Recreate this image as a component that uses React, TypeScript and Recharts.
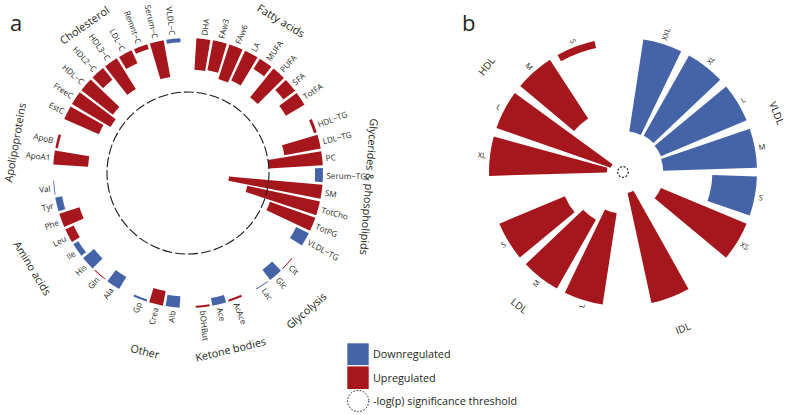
import React from 'react';
import { RadialBarChart, RadialBar, PolarAngleAxis, PolarRadiusAxis, PolarGrid, Cell, Sector, LabelList } from 'recharts';

const W = 790;
const H = 415;
const UP = '#a6161d';
const DOWN = '#4564a8';
const FONT = '"Open Sans", "DejaVu Sans", sans-serif';
const TXT = '#231f20';

// ---------- Panel a data (value = -log10(p) style score, threshold 1.3) ----------
const fattyNames = ['DHA', 'FAw3', 'FAw6', 'LA', 'MUFA', 'PUFA', 'SFA', 'TotFA'];
const fattyValues = [0.76, 0.73, 0.87, 0.79, 0.29, 0.89, 0.35, 0.52];
const fattyDirs = ['U', 'U', 'U', 'U', 'U', 'U', 'U', 'U'];

const glycNames = ['HDL−TG', 'LDL−TG', 'PC', 'Serum−TG', 'SM', 'TotCho', 'TotPG', 'VLDL−TG'];
const glycValues = [0.07, 0.89, 1.3, 0.19, 2.26, 1.79, 1.16, 0.34];
const glycDirs = ['U', 'U', 'U', 'D', 'U', 'U', 'U', 'D'];

const glycoNames = ['Cit', 'Glc', 'Lac'];
const glycoValues = [0.02, 0.31, 0.02];
const glycoDirs = ['U', 'D', 'D'];

const ketoneNames = ['AcAce', 'Ace', 'bOHBut'];
const ketoneValues = [0.05, 0.19, 0.05];
const ketoneDirs = ['U', 'D', 'U'];

const otherNames = ['Alb', 'Crea', 'Gp'];
const otherValues = [0.28, 0.36, 0.05];
const otherDirs = ['D', 'U', 'D'];

const aminoNames = ['Ala', 'Gln', 'His', 'Ile', 'Leu', 'Phe', 'Tyr', 'Val'];
const aminoValues = [0.34, 0.02, 0.34, 0.14, 0.22, 0.51, 0.17, 0.02];
const aminoDirs = ['D', 'U', 'D', 'D', 'U', 'U', 'D', 'D'];

const apoNames = ['ApoA1', 'ApoB'];
const apoValues = [0.84, 0.06];
const apoDirs = ['U', 'U'];

const cholNames = ['EstC', 'FreeC', 'HDL−C', 'HDL2−C', 'HDL3−C', 'LDL−C', 'Remnt−C', 'Serum−C', 'VLDL−C'];
const cholValues = [0.91, 1.08, 0.96, 0.36, 0.87, 0.34, 0.12, 0.9, 0.1];
const cholDirs = ['U', 'U', 'U', 'U', 'U', 'U', 'U', 'U', 'D'];

const A_MAX = 3.25;
const A_THRESH = 1.3;

const groupsA = [
  { label: 'Fatty acids', names: fattyNames, values: fattyValues, dirs: fattyDirs },
  { label: 'Glycerides & phospholipids', names: glycNames, values: glycValues, dirs: glycDirs },
  { label: 'Glycolysis', names: glycoNames, values: glycoValues, dirs: glycoDirs },
  { label: 'Ketone bodies', names: ketoneNames, values: ketoneValues, dirs: ketoneDirs },
  { label: 'Other', names: otherNames, values: otherValues, dirs: otherDirs },
  { label: 'Amino acids', names: aminoNames, values: aminoValues, dirs: aminoDirs },
  { label: 'Apolipoproteins', names: apoNames, values: apoValues, dirs: apoDirs },
  { label: 'Cholesterol', names: cholNames, values: cholValues, dirs: cholDirs },
];

// ---------- Panel b data ----------
const vldlNames = ['XXL', 'XL', 'L', 'M', 'S', 'XS'];
const vldlValues = [20.8, 20.6, 20.8, 21.0, 10.0, 20.8];
const vldlDirs = ['D', 'D', 'D', 'D', 'D', 'U'];

const idlNames = [''];
const idlValues = [25.2];
const idlDirs = ['U'];

const ldlNames = ['L', 'M', 'S'];
const ldlValues = [20.7, 17.7, 15.9];
const ldlDirs = ['U', 'U', 'U'];

const hdlNames = ['XL', 'L', 'M', 'S'];
const hdlValues = [26.4, 27.1, 15.7, 1.6];
const hdlDirs = ['U', 'U', 'U', 'U'];

const B_MAX = 30;
const B_THRESH = 28.8;

const groupsB = [
  { label: 'VLDL', names: vldlNames, values: vldlValues, dirs: vldlDirs },
  { label: 'IDL', names: idlNames, values: idlValues, dirs: idlDirs },
  { label: 'LDL', names: ldlNames, values: ldlValues, dirs: ldlDirs },
  { label: 'HDL', names: hdlNames, values: hdlValues, dirs: hdlDirs },
];

// ---------- geometry ----------
const A = {
  cx: 188, cy: 173, r: 135, step: 7.15, gap: 5.675, start: 2.84, labelR: 138.5,
  groupR: [179, 182, 181, 181, 183, 182, 176, 181], font: 8.1, gFont: 10.8, catGap: '6%',
};
const B = {
  cx: 623, cy: 172, r: 134, step: 20.8, gap: 17.2, start: 6.6, labelR: 138,
  groupR: [165, 167, 169, 173], font: 7.5, gFont: 10, catGap: '8%',
};

type Group = { label: string; names: string[]; values: number[]; dirs: string[] };

function layoutGroups(groups: Group[], P: any) {
  let b = P.start;
  return groups.map((g) => {
    const st = b;
    const en = b + g.names.length * P.step;
    b = en + P.gap;
    return { st, en, mid: (st + en) / 2 };
  });
}

const InvSector = (p: any) => {
  const r0 = Math.min(p.innerRadius, p.outerRadius);
  const r1 = Math.max(p.innerRadius, p.outerRadius);
  return (
    <Sector cx={p.cx} cy={p.cy} innerRadius={r0} outerRadius={r1} startAngle={p.startAngle} endAngle={p.endAngle} fill={p.fill} />
  );
};

// label placed radially, centred on the bar's own angular span
const makeLabel = (P: any) => (props: any) => {
  const vb = props.viewBox || {};
  if (vb.startAngle === undefined) return null;
  const ang = (vb.startAngle + vb.endAngle) / 2;
  const rad = (-ang * Math.PI) / 180;
  const x = P.cx + P.labelR * Math.cos(rad);
  const y = P.cy + P.labelR * Math.sin(rad);
  const a = ((ang % 360) + 360) % 360;
  const right = a < 90 || a > 270;
  const rot = right ? -ang : 180 - ang;
  return (
    <text x={x} y={y} transform={`rotate(${rot} ${x} ${y})`} textAnchor={right ? 'start' : 'end'} dominantBaseline="central" fontSize={P.font} fontFamily={FONT} fill={TXT}>
      {props.value}
    </text>
  );
};

function GroupChart({ group, P, st, en, max, thresh, dash }: any) {
  const data = group.names.map((name: string, i: number) => ({ name, value: group.values[i], dir: group.dirs[i] }));
  // clockwise angle range; recharts places clockwise category bars one band late, so the range is led by one band
  return (
    <div style={{ position: 'absolute', left: 0, top: 0 }}>
      <RadialBarChart
        width={W}
        height={H}
        cx={P.cx}
        cy={P.cy}
        innerRadius={0}
        outerRadius={P.r}
        startAngle={90 - st - P.step}
        endAngle={90 - en - P.step}
        data={data}
        layout="centric"
        barCategoryGap={P.catGap}
        margin={{ top: 0, right: 0, bottom: 0, left: 0 }}
      >
        {thresh !== undefined && (
          <PolarGrid gridType="circle" radialLines={false} stroke="#1a1a1a" strokeWidth={1.1} strokeDasharray={dash} />
        )}
        <PolarAngleAxis type="category" dataKey="name" axisLine={false} tickLine={false} tick={false} />
        <PolarRadiusAxis
          type="number"
          domain={[0, max]}
          reversed
          tick={false}
          axisLine={false}
          ticks={thresh !== undefined ? [thresh] : undefined}
        />
        <RadialBar dataKey="value" isAnimationActive={false} shape={InvSector}>
          {data.map((d: any, i: number) => (
            <Cell key={i} fill={d.dir === 'U' ? UP : DOWN} />
          ))}
          <LabelList dataKey="name" content={makeLabel(P)} />
        </RadialBar>
      </RadialBarChart>
    </div>
  );
}

const groupRot = (bearing: number) => {
  let b = ((bearing % 360) + 360) % 360;
  if (b > 180) b -= 360;
  if (Math.abs(b) <= 100) return b;
  return b > 0 ? b - 180 : b + 180;
};

function GroupLabels({ groups, lay, P }: any) {
  return (
    <>
      {groups.map((g: Group, i: number) => {
        const b = lay[i].mid;
        const rad = (b * Math.PI) / 180;
        const gr = P.groupR[i];
        const x = P.cx + gr * Math.sin(rad);
        const y = P.cy - gr * Math.cos(rad);
        const rot = groupRot(b);
        return (
          <text key={i} x={x} y={y} transform={`rotate(${rot} ${x} ${y})`} textAnchor="middle" dominantBaseline="central" fontSize={P.gFont} fontFamily={FONT} fill={TXT}>
            {g.label}
          </text>
        );
      })}
    </>
  );
}

export default function App() {
  const layA = layoutGroups(groupsA, A);
  const layB = layoutGroups(groupsB, B);
  return (
    <div style={{ position: 'absolute', left: 0, top: 0, width: W, height: H, background: '#fff', fontFamily: FONT, overflow: 'hidden' }}>
      {groupsA.map((g, i) => (
        <GroupChart
          key={'a' + i}
          group={g}
          P={A}
          st={layA[i].st}
          en={layA[i].en}
          max={A_MAX}
          thresh={i === groupsA.length - 1 ? A_THRESH : undefined}
          dash="10 3"
        />
      ))}
      {groupsB.map((g, i) => (
        <GroupChart
          key={'b' + i}
          group={g}
          P={B}
          st={layB[i].st}
          en={layB[i].en}
          max={B_MAX}
          thresh={i === groupsB.length - 1 ? B_THRESH : undefined}
          dash="2 1.6"
        />
      ))}
      <svg width={W} height={H} style={{ position: 'absolute', left: 0, top: 0 }}>
        <GroupLabels groups={groupsA} lay={layA} P={A} />
        <GroupLabels groups={groupsB} lay={layB} P={B} />
        <text x={10} y={31} fontSize={22} fontFamily={FONT} fill={TXT}>a</text>
        <text x={462} y={31} fontSize={22} fontFamily={FONT} fill={TXT}>b</text>
        <rect x={347.3} y={343.3} width={21.4} height={21.8} fill={DOWN} />
        <rect x={347.3} y={366.4} width={21.4} height={22.6} fill={UP} />
        <circle cx={358.2} cy={401} r={10.6} fill="none" stroke="#1a1a1a" strokeWidth={1} strokeDasharray="1.6 1.6" />
        <text x={373} y={358.3} fontSize={10.8} fontFamily={FONT} fill={TXT}>Downregulated</text>
        <text x={373} y={382.3} fontSize={10.8} fontFamily={FONT} fill={TXT}>Upregulated</text>
        <text x={373} y={405.3} fontSize={10.8} fontFamily={FONT} fill={TXT}>-log(p) significance threshold</text>
      </svg>
    </div>
  );
}
